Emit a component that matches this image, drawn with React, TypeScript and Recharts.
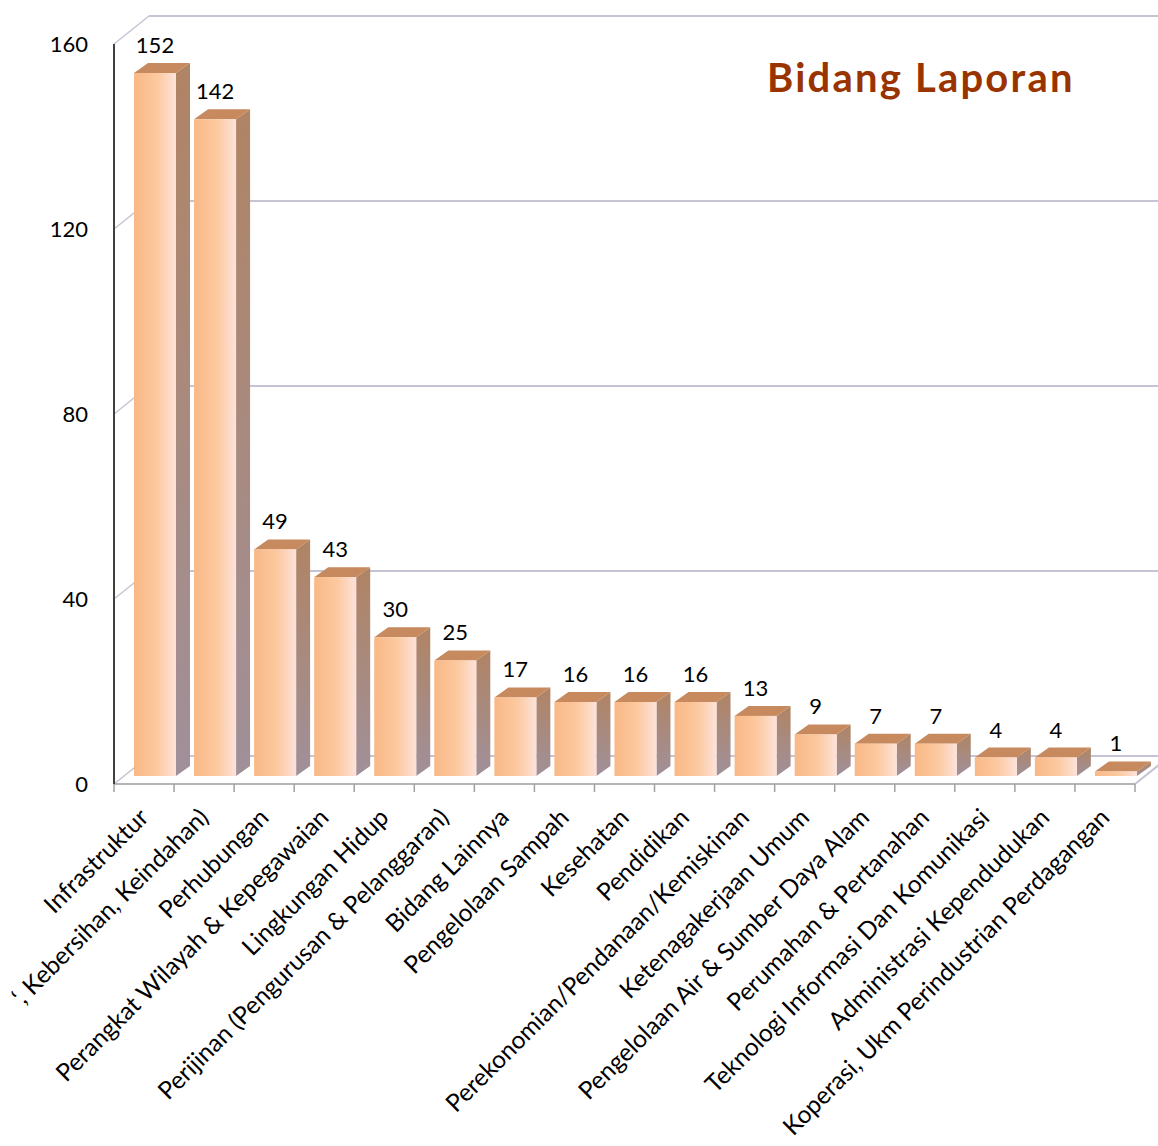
import { BarChart, Bar, XAxis, YAxis, CartesianGrid, LabelList } from 'recharts'

const categories = [
  'Infrastruktur',
  '‘, Kebersihan, Keindahan)',
  'Perhubungan',
  'Perangkat Wilayah & Kepegawaian',
  'Lingkungan Hidup',
  'Perijinan (Pengurusan & Pelanggaran)',
  'Bidang Lainnya',
  'Pengelolaan Sampah',
  'Kesehatan',
  'Pendidikan',
  'Perekonomian/Pendanaan/Kemiskinan',
  'Ketenagakerjaan Umum',
  'Pengelolaan Air & Sumber Daya Alam',
  'Perumahan & Pertanahan',
  'Teknologi Informasi Dan Komunikasi',
  'Administrasi Kependudukan',
  'Koperasi, Ukm Perindustrian Perdagangan',
]

const values = [152, 142, 49, 43, 30, 25, 17, 16, 16, 16, 13, 9, 7, 7, 4, 4, 1]

const yTicks = [0, 40, 80, 120, 160]

const data = categories.map((name, i) => ({ name, value: values[i] }))

const FONT = 'Lato, "Open Sans", sans-serif'
const AXIS_Y = 784
// depth offsets of the fake 3d
const BACK_DX = 35
const BACK_DY = -28
const BAR_DX = 11
const BAR_DY = -8
const SIDE_DX = 14
const SIDE_DY = -10

function Bar3D(props: any) {
  const { x, y, width, height } = props
  if (height == null) return null
  const fx = x + BAR_DX
  const fy = y + BAR_DY
  const top = `${fx},${fy} ${fx + SIDE_DX},${fy + SIDE_DY} ${fx + width + SIDE_DX},${fy + SIDE_DY} ${fx + width},${fy}`
  const side = `${fx + width},${fy} ${fx + width + SIDE_DX},${fy + SIDE_DY} ${fx + width + SIDE_DX},${fy + height + SIDE_DY} ${fx + width},${fy + height}`
  return (
    <g>
      <polygon points={side} fill="url(#sideGrad)" />
      <polygon points={top} fill="#c78a5f" />
      <rect x={fx} y={fy} width={width} height={height} fill="url(#frontGrad)" />
    </g>
  )
}

function BarLabel(props: any) {
  const { x, y, width, value } = props
  return (
    <text x={x + BAR_DX + width / 2} y={y + BAR_DY - 20} textAnchor="middle" fontFamily={FONT} fontSize={22} fill="#000">
      {value}
    </text>
  )
}

function XTick(props: any) {
  const { x, payload, index } = props
  const band = 1021 / categories.length
  const tx = x + 6
  const ty = AXIS_Y + 35
  return (
    <g>
      <line x1={x - band / 2} y1={AXIS_Y} x2={x - band / 2} y2={AXIS_Y + 8} stroke="#a0a0a0" strokeWidth={1.5} />
      {index === categories.length - 1 && (
        <line x1={x + band / 2} y1={AXIS_Y} x2={x + band / 2} y2={AXIS_Y + 8} stroke="#a0a0a0" strokeWidth={1.5} />
      )}
      <text x={tx} y={ty} transform={`rotate(-45, ${tx}, ${ty})`} textAnchor="end" fontFamily={FONT} fontSize={24.5} fill="#000">
        {payload.value}
      </text>
    </g>
  )
}

function YTick(props: any) {
  const { y, payload } = props
  return (
    <text x={88} y={y + 8} textAnchor="end" fontFamily={FONT} fontSize={22} fill="#000">
      {payload.value}
    </text>
  )
}

function GridLine(p: any) {
  const { x1, y1, x2 } = p
  const by = y1 + BACK_DY
  return (
    <g key={p.key}>
      <line x1={x1 + BACK_DX} y1={by} x2={1158} y2={by} stroke="#c4c4d4" strokeWidth={2} />
      <line x1={x1} y1={y1} x2={x1 + BACK_DX} y2={by} stroke="#c4c4d4" strokeWidth={1.5} />
      {y1 > AXIS_Y - 2 && (
        <line x1={x2} y1={y1} x2={x2 + BACK_DX} y2={by} stroke="#c4c4d4" strokeWidth={2} />
      )}
    </g>
  )
}

export default function App() {
  return (
    <div style={{ position: 'absolute', left: 0, top: 0, width: 1158, height: 1146, background: '#fff' }}>
      <BarChart width={1158} height={1146} data={data} margin={{ top: 44, right: 23, bottom: 332, left: 0 }}>
        <defs>
          <linearGradient id="frontGrad" x1="0" y1="0" x2="1" y2="0">
            <stop offset="0%" stopColor="#f9b886" />
            <stop offset="55%" stopColor="#fcc9a0" />
            <stop offset="100%" stopColor="#fde2da" />
          </linearGradient>
          <linearGradient id="sideGrad" x1="0" y1="0" x2="0" y2="1">
            <stop offset="0%" stopColor="#b08464" />
            <stop offset="100%" stopColor="#a0909a" />
          </linearGradient>
        </defs>
        <CartesianGrid vertical={false} horizontal={GridLine} />
        <XAxis
          dataKey="name"
          interval={0}
          height={30}
          tick={<XTick />}
          tickLine={false}
          axisLine={{ stroke: '#b4b4b4', strokeWidth: 2 }}
        />
        <YAxis
          domain={[0, 160]}
          ticks={yTicks}
          width={114}
          tick={<YTick />}
          tickLine={false}
          axisLine={{ stroke: '#404040', strokeWidth: 2 }}
        />
        <Bar dataKey="value" barSize={42} shape={<Bar3D />} isAnimationActive={false}>
          <LabelList dataKey="value" content={<BarLabel />} />
        </Bar>
      </BarChart>
      <div
        style={{
          position: 'absolute',
          left: 767,
          top: 57,
          fontFamily: FONT,
          fontWeight: 700,
          fontSize: 40,
          letterSpacing: 2.2,
          lineHeight: 1,
          color: '#993300',
          whiteSpace: 'nowrap',
        }}
      >
        Bidang Laporan
      </div>
    </div>
  )
}
